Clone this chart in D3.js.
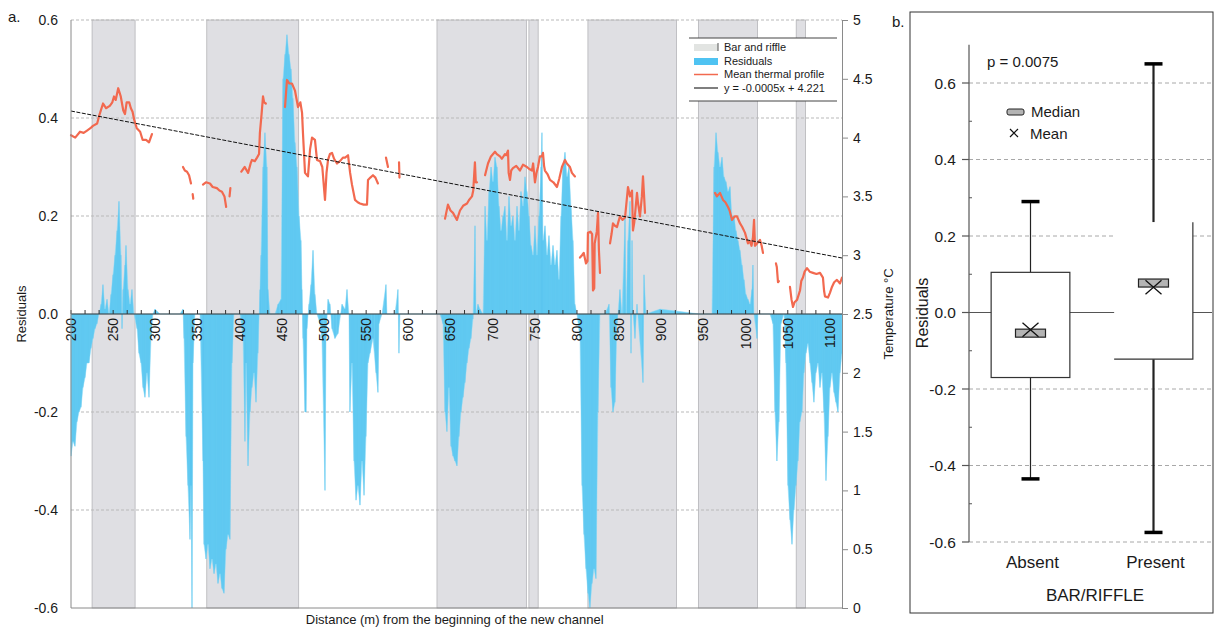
<!DOCTYPE html>
<html><head><meta charset="utf-8">
<script src="https://cdn.jsdelivr.net/npm/d3@7"></script>
<style>
html,body{margin:0;padding:0;background:#fff;}
svg{display:block;font-family:"Liberation Sans",Arial,sans-serif;}
</style></head>
<body>
<svg id="chart" width="1216" height="628"></svg>
<script>
// ---------------- DATA (panel a) ----------------
const barRiffleStart = [225, 361, 634, 743, 813, 944, 1060];
const barRiffleEnd   = [276, 470, 740, 754, 918, 1014, 1071];

const residualDistance = [200,202.4,204.7,207.1,209.5,211.9,214.2,216.6,219,221.3,223.7,226.1,228.5,230.8,233.2,235.6,237.9,240.3,242.7,245.1,247.4,249.8,252.2,254.6,256.9,259.3,260.5,261.7,264,265.2,267.6,270,272.3,274.7,278.3,280.6,283,285.4,287.7,290.1,292.5,294.9,297.2,299.6,305.5,329.2,332.8,334,336.4,338.7,341.1,342.3,343.5,344.7,347,353,356.5,357.7,360.1,362.5,364.8,367.2,369.6,371.9,374.3,376.7,379,381.4,383.8,386.2,388.5,390.9,393.3,400.4,404,406.3,407.5,409.9,412.3,414.6,417,419.4,421.7,424.1,425.3,427.7,430,432.4,433.6,436,438.3,441.9,445.5,449,451.4,453.8,456.1,458.5,460.9,463.2,465.6,468,470.4,472.7,473.9,475.1,477.5,478.7,479.8,482.2,484.6,487,489.3,491.7,495.3,497.6,501.2,502.4,504.8,507.1,509.5,513,516.6,521.4,524.9,527.3,529.6,530.8,533.2,535.6,538,540.3,542.7,545.1,547.5,549.8,552.2,554.6,558.1,561.7,564,565.2,568.8,573.5,574.7,584.2,587.7,588.9,590.1,637.5,641.1,643.5,645.8,648.2,650.6,653,655.3,657.7,660.1,662.5,664.9,667.2,669.6,672,674.3,676.7,679.1,680.3,682.6,685,688.6,691,693.3,695.7,698.1,700.4,702.8,705.2,707.6,709.9,712.3,714.6,717,719.4,721.8,724.1,726.5,728.9,731.2,733.6,736,738.4,740.7,743.1,745.5,747.9,750.2,752.6,755,757.3,758.5,759.7,762.1,764.5,766.8,769.2,771.6,773.9,776.3,778.7,781.1,783.4,785.8,788.2,790.5,792.9,795.3,797.6,800,803.6,806,808.3,810.7,813.1,815.4,817.8,820.2,822.5,824.9,827.3,833.2,838,840.3,842.7,845.1,847.5,851,853.4,857,858.2,860.5,862.9,864.1,865.3,866.4,868.8,871.2,878.3,879.5,881.9,898.5,945.9,960.1,962.5,964.9,967.2,969.6,972,974.3,976.7,979.1,981.5,983.8,986.2,988.6,990.9,993.3,995.7,998.1,1000.4,1002.8,1005.2,1007.5,1008.7,1009.9,1013.5,1014.6,1028.9,1032.4,1034.8,1037.1,1039.5,1041.9,1045.5,1047.8,1050.2,1052.6,1055,1057.3,1059.7,1062.1,1064.4,1066.8,1069.2,1071.6,1073.9,1076.3,1078.7,1081,1083.4,1085.8,1088.2,1090.5,1092.9,1095.3,1097.7,1100,1102.4,1104.8,1107.1,1109.5,1111.9,1114.3];
const residualValue = [-0.29,-0.26,-0.27,-0.22,-0.2,-0.19,-0.15,-0.13,-0.1,-0.1,-0.07,-0.05,-0.03,-0.02,0,0.02,0.06,0.01,0.03,0,0.04,0.08,0.12,0.17,0.23,0.12,-0.03,0.05,0.1,0.14,0.05,0.02,0.05,0,-0.03,-0.08,-0.1,-0.15,-0.17,-0.12,-0.17,-0.05,0,0.01,0,0,0.01,-0.05,-0.25,-0.35,-0.46,-0.35,-0.6,-0.1,0,0,-0.3,-0.47,-0.5,-0.47,-0.52,-0.5,-0.53,-0.51,-0.55,-0.53,-0.56,-0.57,-0.48,-0.45,-0.46,-0.1,0,0,-0.05,-0.26,-0.1,-0.31,-0.2,-0.15,-0.12,-0.18,-0.08,0.05,0.12,0.3,0.37,0.3,0.05,0,0,0,0.02,0.03,0.48,0.53,0.57,0.53,0.5,0.44,0.35,0.3,0.2,0.15,0.05,-0.05,-0.2,-0.2,-0.03,0.02,0.06,0.13,0.04,0,-0.02,-0.05,-0.36,-0.05,0.03,0.02,-0.03,-0.05,-0.04,0.02,0.01,0.05,0,-0.2,-0.1,-0.3,-0.38,-0.35,-0.39,-0.3,-0.37,-0.25,-0.1,-0.08,-0.05,-0.12,-0.16,-0.02,0,0.06,0,0,0.05,-0.08,0,0,-0.02,-0.2,-0.24,-0.15,-0.27,-0.29,-0.3,-0.31,-0.25,-0.2,-0.17,-0.14,-0.1,-0.07,-0.05,-0.01,0.18,0,0.02,0.01,0,0.22,0.15,0.25,0.3,0.27,0.32,0.3,0.22,0.17,0.2,0.22,0.15,0.24,0.18,0.2,0.15,0.22,0.17,0.25,0.22,0.28,0.25,0.2,0.14,0.12,0.18,0.12,0.2,0.3,0.37,0.15,0.18,0.12,0.16,0.1,0.14,0.1,0.13,0.07,0.2,0.3,0.33,0.28,0.3,0.22,0.15,0.02,0,-0.05,-0.35,-0.45,-0.52,-0.57,-0.6,-0.55,-0.52,-0.54,-0.2,0,0,0.02,-0.15,-0.2,-0.18,-0.02,0.05,0,0.2,0,0.15,0.23,-0.08,0.15,0,-0.05,0.02,-0.14,0.08,0,0.01,0,0,0.3,0.37,0.33,0.3,0.32,0.28,0.27,0.25,0.26,0.2,0.2,0.17,0.15,0.13,0.1,0.07,0.04,0.03,0.02,0.05,0.1,0,-0.05,0,0,-0.02,-0.2,-0.3,-0.22,-0.02,0,-0.1,-0.35,-0.42,-0.47,-0.4,-0.35,-0.3,-0.22,-0.2,-0.12,-0.08,-0.06,-0.1,-0.14,-0.18,-0.12,-0.1,-0.15,-0.12,-0.2,-0.34,-0.25,-0.15,-0.12,-0.16,-0.18,-0.2,-0.12,-0.08];

// Mean thermal profile (distance, °C) – separate measured stretches
const thermalSegments = [
 [[200,4.02],[205,4.0],[210.7,4.05],[215,4.04],[219,4.06],[223,4.08],[226,4.1],[231,4.12],[234,4.2],[238,4.29],[241.5,4.25],[246,4.27],[249,4.3],[251,4.35],[253,4.32],[256,4.42],[259,4.35],[262,4.23],[264,4.2],[266,4.3],[269,4.3],[271,4.25],[273,4.22],[275,4.15],[278,4.08],[282,4.05],[285,3.98],[289,3.98],[292.5,3.96],[296,4.03]],
 [[332.8,3.75],[335,3.72],[337.6,3.71],[340,3.68],[342.3,3.61]],
 [[344.3,3.52],[345,3.48]],
 [[356.5,3.6],[360,3.62],[364.8,3.61],[368,3.58],[373,3.57],[376,3.55],[379,3.54],[382,3.5],[384,3.41]],
 [[388,3.5],[389,3.57]],
 [[402,3.71],[406,3.75],[410,3.7],[413,3.78],[414.6,3.81],[418,3.8],[420.6,3.83],[423,3.86],[424,4.04],[426,4.2],[427.7,4.35],[429,4.3],[431,4.29]],
 [[453.8,4.26],[456.1,4.49],[459,4.46],[462,4.46],[465.6,4.4],[469.2,4.26],[472,4.3],[474,4.21],[475,4.05],[477.5,3.7],[481,3.67],[483.5,3.9],[485.8,4.0],[489.3,3.98],[491.7,3.81],[495.3,3.8],[498,3.75],[501.2,3.47],[503,3.7],[504.8,3.81],[507,3.86],[509.5,3.87],[512,3.82],[515.4,3.78],[519,3.8],[522.5,3.83],[525,3.83],[528.5,3.85],[531,3.7],[533.2,3.6],[536.8,3.47],[540,3.45],[542.7,3.44],[547,3.43],[551,3.43],[552.2,3.64],[555,3.66],[558.1,3.68],[561,3.66],[564,3.61]],
 [[573.5,3.83],[575.9,3.75]],
 [[589,3.79],[589.5,3.66]],
 [[643.5,3.31],[647,3.43],[650,3.38],[653,3.36],[657.7,3.3],[661.3,3.38],[665,3.42],[669.6,3.44],[672,3.47],[675.5,3.5],[677,3.55],[679,3.79],[680,3.62],[681.5,3.62]],
 [[691,3.68],[694.5,3.78],[698,3.84],[702.8,3.88],[705,3.86],[708.7,3.84],[711,3.82],[714.6,3.86],[716,3.85],[718.2,3.89],[719,3.7],[720.6,3.64],[722,3.72],[724.1,3.74],[728,3.76],[732.4,3.72],[736,3.77],[740.7,3.75],[744,3.73],[746.7,3.72],[748,3.78],[750.2,3.62],[752,3.7],[753.8,3.75],[756,3.84],[758.5,3.84],[759.7,3.87],[761,3.76],[762,3.72],[765,3.69],[768,3.64],[772,3.62],[776.3,3.58],[779,3.65],[782.2,3.75],[785.8,3.81],[788,3.78],[791.7,3.75],[794,3.7],[797.6,3.67]],
 [[803.6,2.98],[806,3.0],[808,3.02],[810.7,2.93],[812.5,2.95],[813,3.19],[816,3.2],[818,3.18],[819,2.7],[820.5,2.72],[821,3.1],[823.5,3.2],[825,3.36],[826,3.05],[827.3,2.85]],
 [[839.2,3.1],[841,3.18],[842.7,3.27],[845,3.25],[847.5,3.24],[849,3.28],[851,3.33],[854,3.3],[857,3.32],[860.5,3.58],[862.9,3.5],[865.3,3.55],[866.4,3.21],[868,3.28],[871.2,3.53],[872.3,3.45],[874.7,3.33],[877,3.5],[878.3,3.67],[880.7,3.36]],
 [[963.7,3.53],[966,3.5],[969.6,3.53],[973.2,3.47],[976,3.45],[979.1,3.41],[981,3.38],[983.9,3.3],[987,3.33],[989.8,3.33],[993.4,3.27],[996,3.24],[999.3,3.19],[1002.8,3.1],[1005,3.12],[1007,3.08],[1008.7,3.15],[1010,3.3],[1011.1,3.08],[1013.5,3.1],[1017,3.13],[1019,3.08],[1020.6,3.02]],
 [[1036,2.93],[1037,2.9],[1038.4,2.77],[1039.5,2.78]],
 [[1052.6,2.73],[1054.5,2.62],[1056.2,2.56],[1058,2.6],[1061,2.62],[1064.5,2.7],[1066,2.78],[1068,2.81],[1070,2.86],[1072.8,2.89],[1076,2.86],[1079.9,2.85],[1084,2.84],[1088.2,2.85],[1091.7,2.81],[1093,2.7],[1094.1,2.65],[1097.7,2.64],[1100,2.68],[1102.4,2.73],[1105,2.77],[1108.3,2.79],[1111.9,2.76],[1114.3,2.81]]
];
const trendDistance = [200, 1114.3];
const trendTemperature = [4.226, 2.976];

const distanceTicks = [200,250,300,350,400,450,500,550,600,650,700,750,800,850,900,950,1000,1050,1100];
const residualTicks = [-0.6,-0.4,-0.2,0,0.2,0.4,0.6];
const residualGrid = [0.6,0.4,0.2,-0.2,-0.4];
const temperatureTicks = [0,0.5,1,1.5,2,2.5,3,3.5,4,4.5,5];
const legendLabels = ["Bar and riffle","Residuals","Mean thermal profile","y = -0.0005x + 4.221"];

// ---------------- DATA (panel b) ----------------
const boxCategories = ["Absent","Present"];
const boxQ1 = [-0.17, -0.122];
const boxQ3 = [0.105, 0.236];
const boxMedian = [-0.054, 0.077];
const boxMean = [-0.045, 0.066];
const whiskerLow = [-0.435, -0.575];
const whiskerHigh = [0.29, 0.65];
const boxTicks = [-0.6,-0.4,-0.2,0,0.2,0.4,0.6];
const boxMinorTicks = [-0.5,-0.3,-0.1,0.1,0.3,0.5];
const boxGrid = [0.6,0.4,0.2,-0.2,-0.4,-0.6];
const pValueText = "p = 0.0075";

// ---------------- DRAW ----------------
const svg = d3.select("#chart");
const txt = "#1a1a1a";

const x = d3.scaleLinear().domain([200, 1114.3]).range([71, 842]);
const yR = d3.scaleLinear().domain([-0.6, 0.6]).range([608, 20]);
const yT = d3.scaleLinear().domain([0, 5]).range([608, 20]);

const gA = svg.append("g");
gA.append("defs").append("clipPath").attr("id","clipA")
  .append("rect").attr("x",71).attr("y",20).attr("width",771).attr("height",588);

gA.selectAll("rect.band").data(barRiffleStart).join("rect").attr("class","band")
  .attr("x", d=>x(d)).attr("width",(d,i)=>x(barRiffleEnd[i])-x(d))
  .attr("y", yR(0.6)).attr("height", yR(-0.6)-yR(0.6))
  .attr("fill","#dfdfe3").attr("stroke","#b4b4b8").attr("stroke-width",0.8);

gA.selectAll("line.grid").data(residualGrid).join("line").attr("class","grid")
  .attr("x1",71).attr("x2",842).attr("y1",d=>yR(d)).attr("y2",d=>yR(d))
  .attr("stroke","#b9b9b9").attr("stroke-width",1).attr("stroke-dasharray","3,2");

// residuals: filled area plus thin vertical strokes at each reading
const resData = residualDistance.map((d,i)=>[d, residualValue[i]]);
gA.append("path").datum(resData)
  .attr("clip-path","url(#clipA)")
  .attr("d", d3.area().x(d=>x(d[0])).y0(yR(0)).y1(d=>yR(d[1])))
  .attr("fill","#68cdf3").attr("stroke","#8fdaf6").attr("stroke-width",0.5);
gA.selectAll("line.rs").data(resData.filter(d=>d[1]!==0)).join("line").attr("class","rs")
  .attr("x1",d=>x(d[0])).attr("x2",d=>x(d[0])).attr("y1",yR(0)).attr("y2",d=>yR(d[1]))
  .attr("stroke","#4fc1ee").attr("stroke-width",0.7).attr("opacity",0.8);

gA.append("line").attr("x1",71).attr("x2",842).attr("y1",yR(0)).attr("y2",yR(0))
  .attr("stroke","#333").attr("stroke-width",1.2);
const minorTicks = d3.range(200, 1114, 50/3);
gA.selectAll("line.mt").data(minorTicks).join("line").attr("class","mt")
  .attr("x1",d=>x(d)).attr("x2",d=>x(d)).attr("y1",yR(0)).attr("y2",yR(0)-4)
  .attr("stroke","#333").attr("stroke-width",1);
gA.selectAll("text.xt").data(distanceTicks).join("text").attr("class","xt")
  .attr("transform", d=>`translate(${x(d)},${yR(0)+4}) rotate(-90)`)
  .attr("text-anchor","end").attr("dy","0.35em")
  .attr("font-size",14).attr("fill",txt).text(d=>d);

const line = d3.line().x(d=>x(d[0])).y(d=>yT(d[1]));
gA.selectAll("path.therm").data(thermalSegments).join("path").attr("class","therm")
  .attr("d", line).attr("fill","none").attr("stroke","#f2694f").attr("stroke-width",2.2)
  .attr("stroke-linejoin","round").attr("stroke-linecap","round");

gA.append("path").datum(trendDistance.map((d,i)=>[d,trendTemperature[i]]))
  .attr("d", line).attr("fill","none").attr("stroke","#111").attr("stroke-width",1)
  .attr("stroke-dasharray","4,1.5");

gA.append("line").attr("x1",71).attr("x2",71).attr("y1",20).attr("y2",608).attr("stroke","#8a8a8a");
gA.append("line").attr("x1",71).attr("x2",842).attr("y1",608).attr("y2",608).attr("stroke","#8a8a8a");

const axL = d3.axisLeft(yR).tickValues(residualTicks).tickSize(0).tickPadding(13).tickFormat(d=>d.toFixed(1));
const gL = gA.append("g").attr("transform","translate(71,0)").call(axL);
gL.select(".domain").remove();
gL.selectAll("text").attr("font-size",14).attr("fill",txt).attr("font-family","Liberation Sans, Arial, sans-serif");

const axR = d3.axisRight(yT).tickValues(temperatureTicks).tickSize(6).tickPadding(5).tickFormat(d=>String(d));
const gR = gA.append("g").attr("transform","translate(842,0)").call(axR);
gR.select(".domain").attr("stroke","#8a8a8a");
gR.selectAll(".tick line").attr("stroke","#8a8a8a");
gR.selectAll("text").attr("font-size",14).attr("fill",txt).attr("font-family","Liberation Sans, Arial, sans-serif");

gA.append("text").attr("x",8).attr("y",22).attr("font-size",15).attr("fill",txt).text("a.");
gA.append("text").attr("transform","translate(26,314) rotate(-90)").attr("text-anchor","middle")
  .attr("font-size",13).attr("fill",txt).text("Residuals");
gA.append("text").attr("transform","translate(893,314) rotate(-90)").attr("text-anchor","middle")
  .attr("font-size",13).attr("fill",txt).text("Temperature °C");
gA.append("text").attr("x",x(655)).attr("y",624).attr("text-anchor","middle")
  .attr("font-size",13).attr("fill",txt).text("Distance (m) from the beginning of the new channel");

const lg = gA.append("g");
lg.append("rect").attr("x",689).attr("y",38).attr("width",148).attr("height",63).attr("fill","#fff");
lg.append("line").attr("x1",689).attr("x2",837).attr("y1",38).attr("y2",38).attr("stroke","#444");
lg.append("line").attr("x1",689).attr("x2",837).attr("y1",101).attr("y2",101).attr("stroke","#444");
const rowY = [47, 61, 74.5, 88];
lg.append("rect").attr("x",694).attr("y",rowY[0]-3).attr("width",24).attr("height",7).attr("fill","#e2e4e2");
lg.append("line").attr("x1",718).attr("x2",718).attr("y1",rowY[0]-4).attr("y2",rowY[0]+4).attr("stroke","#555");
lg.append("rect").attr("x",694).attr("y",rowY[1]-3).attr("width",24).attr("height",7).attr("fill","#4fc3f2");
lg.append("line").attr("x1",694).attr("x2",718).attr("y1",rowY[2]).attr("y2",rowY[2]).attr("stroke","#f2694f").attr("stroke-width",1.5);
lg.append("line").attr("x1",694).attr("x2",718).attr("y1",rowY[3]).attr("y2",rowY[3]).attr("stroke","#555").attr("stroke-width",1.5);
lg.selectAll("text").data(legendLabels).join("text")
  .attr("x",724).attr("y",(d,i)=>rowY[i]).attr("dy","0.35em")
  .attr("font-size",11).attr("fill",txt).text(d=>d);

// ---------------- panel b ----------------
const gB = svg.append("g");
gB.append("rect").attr("x",910).attr("y",12).attr("width",303).attr("height",601)
  .attr("fill","#fff").attr("stroke","#333").attr("stroke-width",1);
gB.append("text").attr("x",892).attr("y",27).attr("font-size",15).attr("fill",txt).text("b.");

const yB = d3.scaleLinear().domain([-0.6, 0.6]).range([542, 83]);
const xB = d3.scaleBand().domain(boxCategories).range([969, 1215]).padding(0);
const bw = xB.bandwidth()*0.64;
const cx = c => xB(c) + xB.bandwidth()/2;

gB.selectAll("line.bgrid").data(boxGrid).join("line").attr("class","bgrid")
  .attr("x1",969).attr("x2",1212).attr("y1",d=>yB(d)).attr("y2",d=>yB(d))
  .attr("stroke","#a8a8a8").attr("stroke-width",1).attr("stroke-dasharray","4,3");
gB.append("line").attr("x1",969).attr("x2",1212).attr("y1",yB(0)).attr("y2",yB(0))
  .attr("stroke","#555").attr("stroke-width",1.2);

gB.append("line").attr("x1",969).attr("x2",969).attr("y1",yB(0.7)).attr("y2",yB(-0.6)).attr("stroke","#555").attr("stroke-width",1.2);
gB.selectAll("line.bmaj").data(boxTicks).join("line").attr("class","bmaj")
  .attr("x1",962).attr("x2",969).attr("y1",d=>yB(d)).attr("y2",d=>yB(d)).attr("stroke","#555").attr("stroke-width",1.2);
gB.selectAll("line.bmin").data(boxMinorTicks).join("line").attr("class","bmin")
  .attr("x1",969).attr("x2",972).attr("y1",d=>yB(d)).attr("y2",d=>yB(d)).attr("stroke","#555");
gB.selectAll("text.byt").data(boxTicks).join("text").attr("class","byt")
  .attr("x",956).attr("y",d=>yB(d)).attr("dy","0.36em").attr("text-anchor","end")
  .attr("font-size",15.5).attr("fill",txt).text(d=>d.toFixed(1));

boxCategories.forEach((c,i)=>{
  const thick = i===1 ? 2.2 : 1.2;
  const cxx = cx(c);
  gB.append("line").attr("x1",cxx).attr("x2",cxx).attr("y1",yB(whiskerHigh[i])).attr("y2",yB(boxQ3[i]))
    .attr("stroke","#222").attr("stroke-width",thick);
  gB.append("line").attr("x1",cxx).attr("x2",cxx).attr("y1",yB(boxQ1[i])).attr("y2",yB(whiskerLow[i]))
    .attr("stroke","#222").attr("stroke-width",thick);
  [whiskerHigh[i], whiskerLow[i]].forEach(v=>{
    gB.append("line").attr("x1",cxx-9).attr("x2",cxx+9).attr("y1",yB(v)).attr("y2",yB(v))
      .attr("stroke","#000").attr("stroke-width",3.5);
  });
  const bx = cxx - bw/2, by = yB(boxQ3[i]), bh = yB(boxQ1[i]) - yB(boxQ3[i]);
  gB.append("rect").attr("x",bx).attr("y",by).attr("width",bw).attr("height",bh)
    .attr("fill","#fff").attr("stroke", i===0 ? "#333" : "none").attr("stroke-width",1.2);
  if (i===1) {
    gB.append("path").attr("d",`M${bx+bw},${by}V${by+bh}H${bx}`).attr("fill","none").attr("stroke","#333").attr("stroke-width",1.2);
  }
  gB.append("rect").attr("x",cxx-15).attr("y",yB(boxMedian[i])-4).attr("width",30).attr("height",8)
    .attr("fill","#b4b4b4").attr("stroke","#222").attr("stroke-width",1.2);
  const my = yB(boxMean[i]);
  gB.append("path").attr("d",`M${cxx-8},${my-7}L${cxx+8},${my+7}M${cxx-8},${my+7}L${cxx+8},${my-7}`)
    .attr("stroke","#111").attr("stroke-width",1.3);
});

gB.append("text").attr("x",987).attr("y",62).attr("dy","0.35em").attr("font-size",15).attr("fill",txt).text(pValueText);
gB.append("rect").attr("x",1007).attr("y",109).attr("width",17).attr("height",6).attr("rx",2)
  .attr("fill","#b4b4b4").attr("stroke","#222");
gB.append("text").attr("x",1031).attr("y",112).attr("dy","0.35em").attr("font-size",15).attr("fill",txt).text("Median");
gB.append("path").attr("d","M1010,129L1018,137M1010,137L1018,129").attr("stroke","#111").attr("stroke-width",1.2);
gB.append("text").attr("x",1030).attr("y",134).attr("dy","0.35em").attr("font-size",15).attr("fill",txt).text("Mean");

gB.selectAll("text.cat").data(boxCategories).join("text").attr("class","cat")
  .attr("x",d=>cx(d)+2).attr("y",562).attr("dy","0.35em").attr("text-anchor","middle")
  .attr("font-size",17).attr("fill",txt).text(d=>d);
gB.append("text").attr("x",1095).attr("y",595).attr("dy","0.35em").attr("text-anchor","middle")
  .attr("font-size",17).attr("fill",txt).text("BAR/RIFFLE");
gB.append("text").attr("transform","translate(928,313) rotate(-90)").attr("text-anchor","middle")
  .attr("font-size",16).attr("fill",txt).text("Residuals");
</script>
</body></html>
